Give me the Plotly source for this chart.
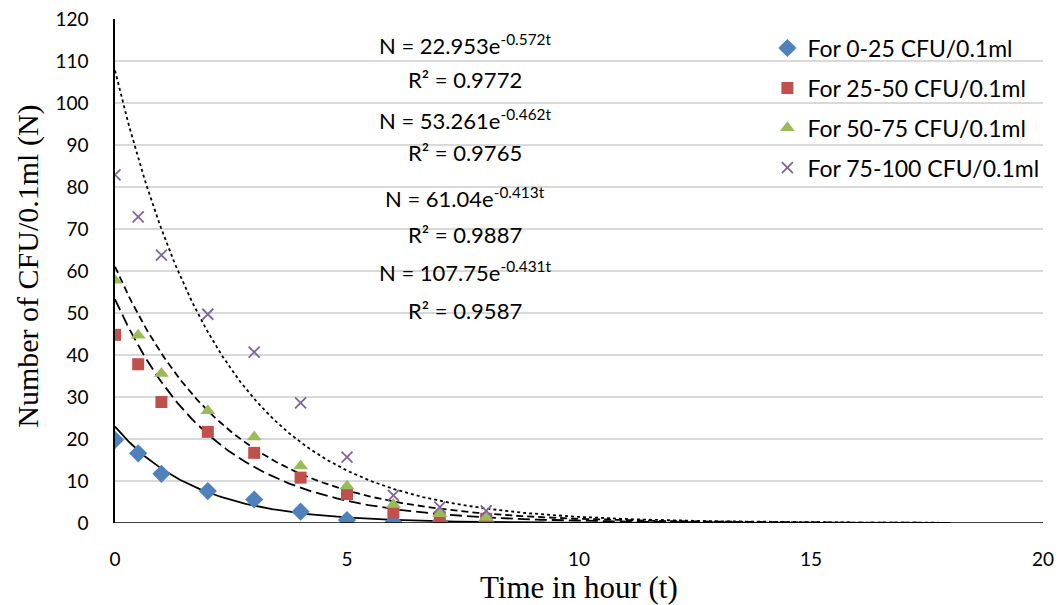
import numpy as np
import plotly.graph_objects as go

# ---- data ----
time_h = [0, 0.5, 1, 2, 3, 4, 5, 6, 7, 8]
s_0_25 = [19.8, 16.6, 11.7, 7.6, 5.6, 2.7, 0.7, 0.2, 0.1, 0.05]
s_25_50 = [44.8, 37.8, 28.8, 21.7, 16.7, 10.8, 6.9, 2.5, 1.3, 1.0]
s_50_75 = [57.8, 44.7, 35.6, 26.7, 20.5, 13.6, 8.8, 4.4, 2.2, 1.3]
s_75_100 = [82.9, 72.9, 63.8, 49.7, 40.7, 28.6, 15.7, 6.6, 3.8, 2.9]

names = ["For 0-25 CFU/0.1ml", "For 25-50 CFU/0.1ml",
         "For 50-75 CFU/0.1ml", "For 75-100 CFU/0.1ml"]
series = [s_0_25, s_25_50, s_50_75, s_75_100]

# exponential trendline parameters N = a*exp(b t)
fit_a = [22.953, 53.261, 61.04, 107.75]
fit_b = [-0.572, -0.462, -0.413, -0.431]
fit_r2 = ["0.9772", "0.9765", "0.9887", "0.9587"]
fit_tmax = 18

x_ticks = [0, 5, 10, 15, 20]
y_ticks = list(range(0, 121, 10))

colors = ["#4F81BD", "#C0504D", "#9BBB59", "#8064A2"]
symbols = ["diamond", "square", "triangle-up", "x-thin"]
msizes = [14, 12, 13, 11]
dashes = ["solid", "12px,5px", "7px,4px", "3px,3px"]

SANS = "Lato, Carlito, sans-serif"
SERIF = "Liberation Serif, Times New Roman, serif"

fig = go.Figure()

tt = np.linspace(0, fit_tmax, 400)
for a, b, d in zip(fit_a, fit_b, dashes):
    fig.add_trace(go.Scatter(x=tt, y=a * np.exp(b * tt), mode="lines",
                             line=dict(color="black", width=1.8, dash=d),
                             showlegend=False, hoverinfo="skip"))

for i, (name, ys, c, s, ms) in enumerate(zip(names, series, colors, symbols, msizes)):
    marker = dict(color=c, size=ms, symbol=s)
    if s == "x-thin":
        marker["line"] = dict(color=c, width=1.8)
    fig.add_trace(go.Scatter(x=time_h, y=ys, mode="markers", name=name,
                             legendgroup=f"g{i}", marker=marker))

ann_y = [(114, 105.6), (96, 88.2), (77.5, 68.7), (59.8, 50.7)]
for a, b, r2, (ye, yr) in zip(fit_a, fit_b, fit_r2, ann_y):
    fig.add_annotation(x=7.54, y=ye, xref="x", yref="y", showarrow=False,
                       text=f"N = {a:g}e<sup>{b:g}t</sup>",
                       font=dict(family=SANS, size=22, color="black"))
    fig.add_annotation(x=7.54, y=yr, xref="x", yref="y", showarrow=False,
                       text=f"R² = {r2}",
                       font=dict(family=SANS, size=22, color="black"))

# axis titles
fig.add_annotation(x=0.5, y=-0.128, xref="paper", yref="paper", showarrow=False,
                   xanchor="center", yanchor="middle", text="Time in hour (t)",
                   font=dict(family=SERIF, size=31, color="black"))
fig.add_annotation(x=-0.094, y=0.51, xref="paper", yref="paper", showarrow=False,
                   xanchor="center", yanchor="middle", textangle=-90,
                   text="Number of CFU/0.1ml (N)",
                   font=dict(family=SERIF, size=30, color="black"))

fig.update_layout(
    width=1064, height=605,
    margin=dict(l=115, r=21, t=19, b=82, autoexpand=False),
    paper_bgcolor="white", plot_bgcolor="white",
    font=dict(family=SANS, size=19, color="black"),
    legend=dict(x=0.703, y=0.985, xanchor="left", yanchor="top",
                bgcolor="rgba(0,0,0,0)", font=dict(size=23),
                traceorder="grouped", tracegroupgap=7),
    xaxis=dict(range=[0, 20], tickvals=x_ticks, showgrid=False, automargin=False,
               zeroline=False, showline=False, ticks="", ticklabelstandoff=23),
    yaxis=dict(range=[0, 120], tickvals=y_ticks, showgrid=True, automargin=False,
               gridcolor="#D9D9D9", gridwidth=1.5, zeroline=False,
               showline=True, linecolor="black", linewidth=1.5, ticks="",
               ticklabelstandoff=21),
)
fig.add_shape(type="line", xref="x", yref="y", x0=0, x1=20, y0=0, y1=0,
              line=dict(color="black", width=1.5), layer="above")

# remove the page's default body margin so the figure fills the window exactly
fig.write_html("out.html",
               config={"displayModeBar": False},
               post_script="document.body.style.margin='0';"
                           "document.documentElement.style.overflow='hidden';")
